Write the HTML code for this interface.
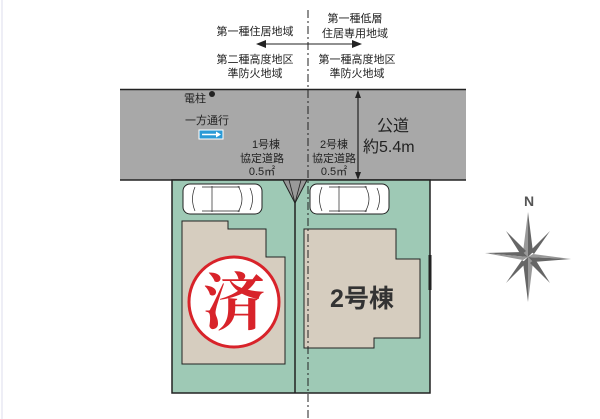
<!DOCTYPE html>
<html><head><meta charset="utf-8"><style>
html,body{margin:0;padding:0;background:#fff;}
svg{display:block;font-family:"Liberation Sans","Noto Sans CJK JP",sans-serif;}
</style></head><body>
<svg width="600" height="419" viewBox="0 0 600 419" xmlns="http://www.w3.org/2000/svg">
<rect width="600" height="419" fill="#fff"/>
<line x1="2" y1="0" x2="2" y2="419" stroke="#dde" stroke-width="1"/>
<g font-size="11" fill="#222" text-anchor="middle">
<text x="255" y="35">第一種住居地域</text>
<text x="355" y="22">第一種低層</text>
<text x="355" y="37">住居専用地域</text>
<text x="255" y="63">第二種高度地区</text>
<text x="255" y="77">準防火地域</text>
<text x="357" y="63">第一種高度地区</text>
<text x="357" y="77">準防火地域</text>
</g>
<line x1="262" y1="44" x2="356" y2="44" stroke="#222" stroke-width="1"/>
<polygon points="256,44 266,40 266,48" fill="#222"/>
<polygon points="362,44 352,40 352,48" fill="#222"/>
<rect x="120" y="89" width="346" height="91" fill="#a8a8a8"/>
<line x1="120" y1="89.5" x2="466" y2="89.5" stroke="#222" stroke-width="1.5"/>
<line x1="120" y1="180" x2="466" y2="180" stroke="#222" stroke-width="1.5"/>
<circle cx="212" cy="94" r="3" fill="#222"/>
<text x="184" y="102" font-size="11" fill="#222">電柱</text>
<text x="185" y="124" font-size="11" fill="#222">一方通行</text>
<rect x="199" y="130" width="24" height="9" fill="#2a9ad6" stroke="#fff" stroke-width="1"/>
<line x1="202" y1="134.5" x2="218" y2="134.5" stroke="#fff" stroke-width="1.5"/>
<polygon points="221,134.5 216,131.5 216,137.5" fill="#fff"/>
<g font-size="11" fill="#222" text-anchor="middle">
<text x="266" y="148">1号棟</text>
<text x="262" y="162">協定道路</text>
<text x="262" y="175">0.5㎡</text>
<text x="334" y="148">2号棟</text>
<text x="334" y="162">協定道路</text>
<text x="334" y="175">0.5㎡</text>
</g>
<line x1="358" y1="92" x2="358" y2="178" stroke="#222" stroke-width="1.2"/>
<polygon points="358,90 355,98 361,98" fill="#222"/>
<polygon points="358,180 355,172 361,172" fill="#222"/>
<text x="377" y="131" font-size="16" fill="#222">公道</text>
<text x="363" y="152" font-size="16" fill="#222">約5.4m</text>
<rect x="172" y="180" width="258" height="213" fill="#9ec9b5" stroke="#222" stroke-width="1.5"/>
<line x1="295" y1="180" x2="295" y2="393" stroke="#222" stroke-width="1.5"/>
<polygon points="283,180 307,180 295,203" fill="#999" stroke="#222" stroke-width="1"/>
<line x1="289" y1="180" x2="295" y2="203" stroke="#222" stroke-width="0.8"/>
<line x1="301" y1="180" x2="295" y2="203" stroke="#222" stroke-width="0.8"/>
<line x1="430" y1="255" x2="430" y2="290" stroke="#222" stroke-width="3"/>
<polygon points="182,221 228,221 228,229 266,229 266,257 285,257 285,364 182,364" fill="#d6cdbf" stroke="#222" stroke-width="1"/>
<polygon points="304,229 396,229 396,259 420,259 420,338 374,338 374,348 304,348" fill="#d6cdbf" stroke="#222" stroke-width="1"/>
<g fill="#fff" stroke="#222" stroke-width="1">
<rect x="183" y="184" width="79" height="30" rx="7"/>
<rect x="310" y="184" width="79" height="30" rx="7"/>
</g>
<g fill="none" stroke="#222" stroke-width="0.7">
<path d="M195,187 Q190,199 195,211 M212,186 L212,212 M238,186 Q246,199 238,212 M250,188 Q255,199 250,210 M202,187 L240,187 M202,211 L240,211"/>
<path d="M322,187 Q317,199 322,211 M339,186 L339,212 M365,186 Q373,199 365,212 M377,188 Q382,199 377,210 M329,187 L367,187 M329,211 L367,211"/>
</g>
<circle cx="234" cy="302" r="45" fill="#fff" stroke="#d8232a" stroke-width="3"/>
<text x="234" y="324" font-size="62" fill="#d8232a" text-anchor="middle" font-family="'Noto Serif CJK SC','Noto Sans CJK JP',serif" font-weight="bold">済</text>
<text x="362" y="307" font-size="25" font-weight="bold" fill="#333" text-anchor="middle">2号棟</text>
<line x1="308" y1="10" x2="308" y2="419" stroke="#222" stroke-width="1" stroke-dasharray="8,3,2,3"/>
<text x="529" y="206" font-size="14" font-weight="bold" fill="#555" text-anchor="middle">N</text>
<g transform="translate(528,257)" fill="#666">
<polygon points="0,-45 5,-5 0,0"/><polygon points="0,-45 -5,-5 0,0" fill="#999"/>
<polygon points="0,45 -5,5 0,0"/><polygon points="0,45 5,5 0,0" fill="#999"/>
<polygon points="-43,-4 -5,-5 0,0"/><polygon points="-43,-4 -5,3 0,0" fill="#999"/>
<polygon points="43,2 5,5 0,0"/><polygon points="43,2 5,-3 0,0" fill="#999"/>
<polygon points="-22,-26 -2,-6 -7,-2"/><polygon points="22,-26 6,-3 2,-6"/>
<polygon points="22,26 2,6 7,2"/><polygon points="-22,26 -6,3 -2,6"/>
</g>
</svg>
</body></html>
